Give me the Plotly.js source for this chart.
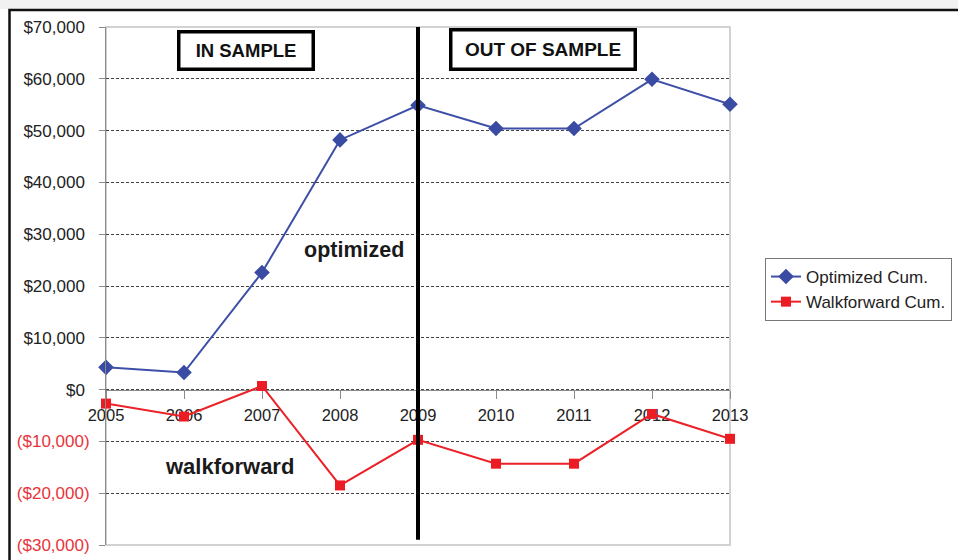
<!DOCTYPE html>
<html>
<head>
<meta charset="utf-8">
<script src="https://cdn.plot.ly/plotly-3.0.1.min.js"></script>
<style>html,body{margin:0;padding:0;background:#fff;}#chart{width:958px;height:560px;}</style>
</head>
<body>
<div id="chart"></div>
<script>
// ---- data ----
var years = ['2005','2006','2007','2008','2009','2010','2011','2012','2013'];
var optimizedCum = [4300, 3300, 22600, 48200, 54900, 50400, 50400, 59900, 55100];
var walkforwardCum = [-2700, -5200, 700, -18500, -9700, -14300, -14300, -4700, -9500];
var yTickVals = [70000, 60000, 50000, 40000, 30000, 20000, 10000, 0, -10000, -20000, -30000];
var yTickText = ['$70,000', '$60,000', '$50,000', '$40,000', '$30,000', '$20,000', '$10,000', '$0',
                 '($10,000)', '($20,000)', '($30,000)'];
var seriesNames = ['Optimized Cum.', 'Walkforward Cum.'];
var boxLabels = ['IN SAMPLE', 'OUT OF SAMPLE'];
var seriesLabels = ['optimized', 'walkforward'];
var splitYear = '2009';

// ---- layout helpers (pixel -> paper) ----
var W = 958, H = 560;
var mL = 106, mR = 228, mT = 27, mB = 15;
var pw = W - mL - mR, ph = H - mT - mB;
function px(x) { return (x - mL) / pw; }
function py(y) { return (H - mB - y) / ph; }

var ticktext = yTickText.map(function (t, i) {
  return yTickVals[i] < 0 ? '<span style="color:#e8343a">' + t + '</span>' : t + '\u00a0';
});
var splitIdx = years.indexOf(splitYear);

var traces = [
  {
    x: years, y: optimizedCum, name: seriesNames[0], type: 'scatter', mode: 'lines+markers',
    line: {color: '#3d4fa6', width: 2},
    marker: {symbol: 'diamond', size: 12, color: '#3a4ba3'},
    cliponaxis: false
  },
  {
    x: years, y: walkforwardCum, name: seriesNames[1], type: 'scatter', mode: 'lines+markers',
    line: {color: '#ec2127', width: 2},
    marker: {symbol: 'square', size: 10, color: '#ec1c24'},
    cliponaxis: false
  }
];

var layout = {
  width: W, height: H,
  margin: {l: mL, r: mR, t: mT, b: mB, pad: 0, autoexpand: false},
  paper_bgcolor: '#ffffff', plot_bgcolor: '#ffffff',
  font: {family: 'Liberation Sans, Arial, sans-serif', color: '#222'},
  showlegend: true,
  legend: {
    x: px(765), y: py(258), xanchor: 'left', yanchor: 'top',
    bordercolor: '#777', borderwidth: 1, bgcolor: '#fff',
    font: {size: 17, color: '#222'}, tracegroupgap: 0
  },
  xaxis: {
    type: 'category', range: [0, years.length - 1],
    anchor: 'free', position: 0.3,
    showgrid: false, zeroline: false,
    showline: true, linecolor: '#8a8a8a', linewidth: 1,
    ticks: 'outside', ticklen: 8, tickcolor: '#8a8a8a', tickwidth: 1,
    ticklabelstandoff: 3,
    tickfont: {size: 16.5, color: '#222'},
    layer: 'below traces', fixedrange: true, automargin: false
  },
  yaxis: {
    range: [-30000, 70000],
    tickvals: yTickVals, ticktext: ticktext,
    showgrid: true, gridcolor: '#444', gridwidth: 1, griddash: '3px,2px',
    zeroline: false,
    showline: true, linecolor: '#8a8a8a', linewidth: 1,
    ticks: 'outside', ticklen: 6, tickcolor: '#8a8a8a',
    ticklabelstandoff: 6,
    tickfont: {size: 17, color: '#222'},
    fixedrange: true, automargin: false
  },
  shapes: [
    // light border of plot area
    {type: 'rect', xref: 'paper', yref: 'paper', x0: 0, x1: 1, y0: 0, y1: 1,
     line: {color: '#c4c4c4', width: 1.5}, layer: 'between'},
    // vertical split line
    {type: 'line', xref: 'x', yref: 'y', x0: splitIdx, x1: splitIdx, y0: -29000, y1: 70000,
     line: {color: '#000', width: 4}, layer: 'above'},
    // top grey strip
    {type: 'rect', xref: 'paper', yref: 'paper', x0: px(-5), x1: px(965), y0: py(-5), y1: py(9),
     fillcolor: '#f1f1f1', line: {width: 0}, layer: 'below'},
    // outer black frame
    {type: 'rect', xref: 'paper', yref: 'paper', x0: px(9.5), x1: px(975), y0: py(575), y1: py(10),
     line: {color: '#111', width: 2.5}, layer: 'above'}
  ],
  annotations: [
    {xref: 'paper', yref: 'paper', x: px(245.5), y: py(50), xanchor: 'center', yanchor: 'middle',
     text: '<b>' + boxLabels[0] + '</b>', showarrow: false,
     font: {size: 18.5, color: '#111'},
     bgcolor: '#fff', bordercolor: '#000', borderwidth: 3.5, borderpad: 0,
     width: 131, height: 34},
    {xref: 'paper', yref: 'paper', x: px(542.5), y: py(49), xanchor: 'center', yanchor: 'middle',
     text: '<b>' + boxLabels[1] + '</b>', showarrow: false,
     font: {size: 19, color: '#111'},
     bgcolor: '#fff', bordercolor: '#000', borderwidth: 3.5, borderpad: 0,
     width: 181, height: 36},
    {xref: 'paper', yref: 'paper', x: px(354), y: py(250), xanchor: 'center', yanchor: 'middle',
     text: '<b>' + seriesLabels[0] + '</b>', showarrow: false,
     font: {size: 21.5, color: '#1a1a1a'}},
    {xref: 'paper', yref: 'paper', x: px(229.5), y: py(466), xanchor: 'center', yanchor: 'middle',
     text: '<b>' + seriesLabels[1] + '</b>', showarrow: false,
     font: {size: 22, color: '#1a1a1a'}}
  ]
};

Plotly.newPlot('chart', traces, layout, {displayModeBar: false, staticPlot: true});
</script>
</body>
</html>
